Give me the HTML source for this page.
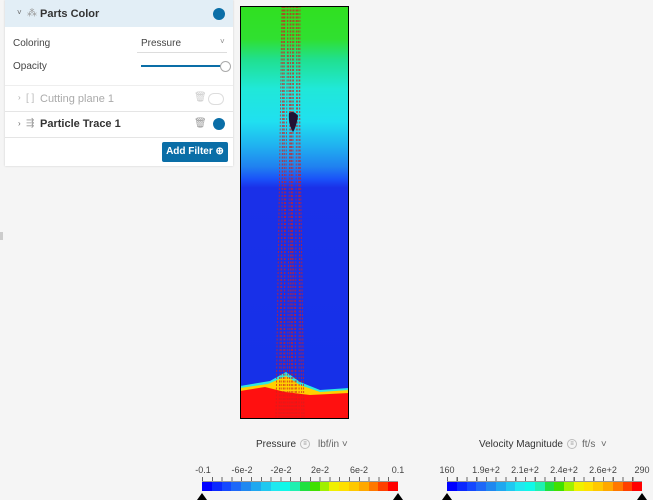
<!DOCTYPE html><html><head><style>
body{margin:0;width:653px;height:500px;background:#f5f5f5;font-family:"Liberation Sans",sans-serif;position:relative;overflow:hidden;color:#333}
.p{position:absolute}
.panel{left:5px;top:0;width:228px;height:166px;background:#fff;box-shadow:0 0 2px #ccc}
.hdr{left:0;top:0;width:228px;height:27px;background:#e2eef6}
.t{position:absolute;font-size:10px;white-space:nowrap}
.tog{position:absolute;width:12px;height:12px;border-radius:50%}
.cb{position:absolute;height:10px;display:flex}
.cb div{flex:1}
.lab{position:absolute;font-size:9px;color:#444;transform:translateX(-50%);white-space:nowrap}
.tri{position:absolute;width:0;height:0;border-left:5px solid transparent;border-right:5px solid transparent;border-bottom:7px solid #000;top:493px}
.ic{display:inline-block;width:8px;height:8px;border:1px solid #bbb;border-radius:50%;font-size:6px;line-height:8px;text-align:center;color:#888;vertical-align:middle;margin-left:4px}
</style></head><body>
<div class="p panel">
 <div class="p hdr"></div>
 <div class="t" style="left:12px;top:8px;font-size:8px;color:#666">˅</div>
 <div class="t" style="left:22px;top:8px;color:#999">⁂</div>
 <div class="t" style="left:35px;top:8px;font-weight:bold;font-size:11px">Parts Color</div>
 <div class="tog" style="left:208px;top:8px;background:#0a6ea7"></div>
 <div class="t" style="left:8px;top:38px;color:#444">Coloring</div>
 <div class="t" style="left:136px;top:38px;color:#444">Pressure</div>
 <div class="t" style="left:215px;top:37px;font-size:8px;color:#888">˅</div>
 <div class="p" style="left:132px;top:52px;width:90px;height:1px;background:#ddd"></div>
 <div class="t" style="left:8px;top:61px;color:#444">Opacity</div>
 <div class="p" style="left:136px;top:65px;width:84px;height:2px;background:#0a6ea7"></div>
 <div class="p" style="left:215px;top:61px;width:9px;height:9px;border:1px solid #aaa;border-radius:50%;background:#fff"></div>
 <div class="p" style="left:0;top:85px;width:228px;height:1px;background:#eee"></div>
 <div class="t" style="left:13px;top:93px;color:#aaa;font-size:8px">›</div>
 <div class="t" style="left:21px;top:93px;color:#bbb">[ ]</div>
 <div class="t" style="left:35px;top:93px;color:#aaa;font-size:11px">Cutting plane 1</div>
 <div class="t" style="left:189px;top:92px;color:#ccc">🗑</div>
 <div class="p" style="left:203px;top:93px;width:14px;height:10px;border:1px solid #ddd;border-radius:6px;background:#fff"></div>
 <div class="p" style="left:0;top:111px;width:228px;height:1px;background:#e5e5e5"></div>
 <div class="t" style="left:13px;top:119px;color:#666;font-size:8px">›</div>
 <div class="t" style="left:21px;top:118px;color:#999">⇶</div>
 <div class="t" style="left:35px;top:118px;font-weight:bold;font-size:11px">Particle Trace 1</div>
 <div class="t" style="left:189px;top:118px;color:#999">🗑</div>
 <div class="tog" style="left:208px;top:118px;background:#0a6ea7"></div>
 <div class="p" style="left:0;top:137px;width:228px;height:1px;background:#e5e5e5"></div>
 <div class="p" style="left:157px;top:142px;width:66px;height:20px;background:#0a6ea7;border-radius:2px;color:#fff;font-size:10px;font-weight:bold;line-height:20px;text-align:center">Add Filter ⊕</div>
</div>
<div class="p" style="left:0;top:232px;width:3px;height:8px;background:#ccc"></div>
<svg class="p" style="left:240px;top:6px" width="109" height="413">
 <defs><linearGradient id="g" x1="0" y1="0" x2="0" y2="1">
 <stop offset="0" stop-color="#30e020"/><stop offset="0.08" stop-color="#30e030"/><stop offset="0.13" stop-color="#20e090"/><stop offset="0.2" stop-color="#20e8d8"/><stop offset="0.28" stop-color="#20e0f0"/><stop offset="0.34" stop-color="#20b0f0"/><stop offset="0.39" stop-color="#2080f0"/><stop offset="0.42" stop-color="#1a50f8"/><stop offset="0.44" stop-color="#1a30e8"/><stop offset="1" stop-color="#1530e8"/></linearGradient></defs>
 <rect width="109" height="413" fill="url(#g)"/>
 <polygon points="0,380 30,375 46,366 60,376 80,384 109,382 109,413 0,413" fill="#30e8e0"/>
 <polygon points="0,382 28,378 46,370 60,379 80,386 109,384 109,413 0,413" fill="#ffd000"/>
 <polygon points="0,385 25,381 45,386 70,389 109,387 109,413 0,413" fill="#ff1010"/>
 <g stroke="#d02020" stroke-width="1" stroke-dasharray="2 1.5" opacity="0.75">
 <line x1="42" y1="0" x2="36" y2="413"/><line x1="45" y1="0" x2="39" y2="413"/><line x1="48" y1="0" x2="43" y2="413"/><line x1="51" y1="0" x2="47" y2="413"/><line x1="54" y1="0" x2="51" y2="413"/><line x1="57" y1="0" x2="55" y2="413"/><line x1="60" y1="0" x2="59" y2="413"/><line x1="44" y1="0" x2="45" y2="413"/><line x1="50" y1="0" x2="53" y2="413"/><line x1="56" y1="0" x2="62" y2="413"/><line x1="47" y1="0" x2="57" y2="413"/><line x1="53" y1="0" x2="49" y2="413"/><line x1="43" y1="0" x2="41" y2="413"/><line x1="58" y1="0" x2="64" y2="413"/>
 </g>
 <path d="M49,107 Q54,104 58,110 Q56,122 53,126 Q48,118 49,107Z" fill="#221133"/>
 <rect x="0.5" y="0.5" width="108" height="412" fill="none" stroke="#000"/>
</svg>
<div class="t" style="left:256px;top:439px;font-size:10px">Pressure<span class="ic">≡</span></div>
<div class="t" style="left:318px;top:439px;font-size:10px;color:#666">lbf/in ˅</div>
<div class="t" style="left:479px;top:439px;font-size:10px">Velocity Magnitude<span class="ic">≡</span></div>
<div class="t" style="left:582px;top:439px;font-size:10px;color:#666">ft/s &nbsp;˅</div>
<div class="lab" style="left:203px;top:465px">-0.1</div><div class="lab" style="left:242px;top:465px">-6e-2</div><div class="lab" style="left:281px;top:465px">-2e-2</div><div class="lab" style="left:320px;top:465px">2e-2</div><div class="lab" style="left:359px;top:465px">6e-2</div><div class="lab" style="left:398px;top:465px">0.1</div>
<div class="lab" style="left:447px;top:465px">160</div><div class="lab" style="left:486px;top:465px">1.9e+2</div><div class="lab" style="left:525px;top:465px">2.1e+2</div><div class="lab" style="left:564px;top:465px">2.4e+2</div><div class="lab" style="left:603px;top:465px">2.6e+2</div><div class="lab" style="left:642px;top:465px">290</div>
<div class="cb" style="left:202px;top:481px;width:196px" id="c1"></div>
<div class="cb" style="left:447px;top:481px;width:195px" id="c2"></div>
<div class="p" style="left:202px;top:477px;width:196px;height:4px;border-bottom:1px solid #999;background:repeating-linear-gradient(90deg,#666 0 1px,transparent 1px 9.8px)"></div>
<div class="p" style="left:447px;top:477px;width:195px;height:4px;border-bottom:1px solid #999;background:repeating-linear-gradient(90deg,#666 0 1px,transparent 1px 9.75px)"></div>
<div class="tri" style="left:197px"></div><div class="tri" style="left:393px"></div>
<div class="tri" style="left:442px"></div><div class="tri" style="left:637px"></div>
<script>
var c=["#0000ff","#0a28ff","#1448ff","#1e68f8","#2088f0","#20a8f0","#20c8f0","#20e8f0","#10f8e8","#20f0b0","#20e040","#40e000","#a0f000","#f0f000","#ffe000","#ffc800","#ffa800","#ff7800","#ff4000","#ff0000"];
["c1","c2"].forEach(function(id){var e=document.getElementById(id);c.forEach(function(x){var d=document.createElement("div");d.style.background=x;e.appendChild(d);});});
</script>
</body></html>
